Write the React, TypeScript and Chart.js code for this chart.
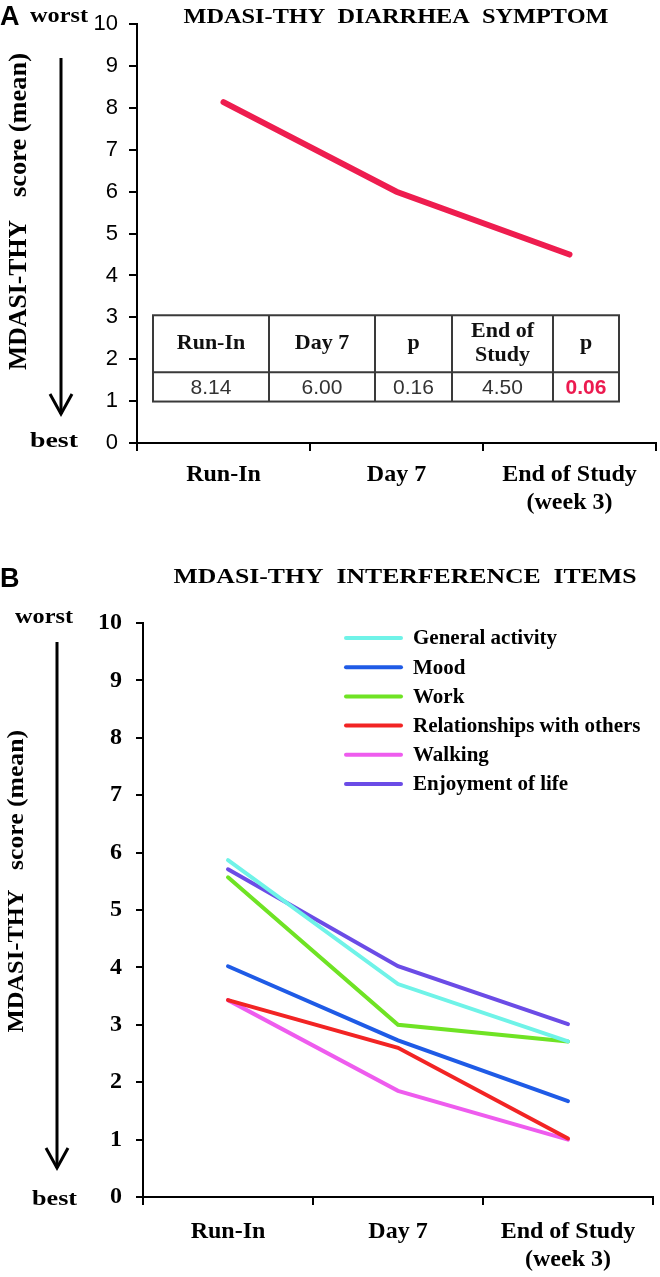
import React, { useEffect, useRef } from 'react';
import { Chart, registerables } from 'chart.js';

Chart.register(...registerables);

// ---------- DATA ----------
const timepointsA = ['Run-In', 'Day 7', ['End of Study', '(week 3)']];
const diarrheaMeans = [8.14, 6.0, 4.5];

const tableHeaders = [['Run-In'], ['Day 7'], ['p'], ['End of', 'Study'], ['p']];
const tableValues = ['8.14', '6.00', '0.16', '4.50', '0.06'];
const tableHighlight = [false, false, false, false, true];

const timepointsB = ['Run-In', 'Day 7', ['End of Study', '(week 3)']];
const seriesNames = [
  'General activity',
  'Mood',
  'Work',
  'Relationships with others',
  'Walking',
  'Enjoyment of life',
];
const generalActivity = [5.87, 3.71, 2.71];
const mood = [4.02, 2.73, 1.67];
const work = [5.57, 3.0, 2.71];
const relationships = [3.43, 2.6, 1.02];
const walking = [3.43, 1.85, 1.0];
const enjoyment = [5.71, 4.02, 3.01];
const seriesColors = ['#6ff3e8', '#1f5be6', '#6fe324', '#f22424', '#ee5cee', '#6b4ce6'];

const SERIF = "'Liberation Serif', 'Times New Roman', serif";
const SANS = "'Liberation Sans', Arial, sans-serif";

// ---------- helpers ----------
function drawFit(ctx: CanvasRenderingContext2D, text: string, x: number, y: number, font: string,
  width: number | null, align: CanvasTextAlign = 'center', color = '#000') {
  ctx.save();
  ctx.font = font;
  ctx.fillStyle = color;
  ctx.textBaseline = 'middle';
  ctx.textAlign = align;
  const m = ctx.measureText(text).width;
  const sx = width ? width / m : 1;
  ctx.translate(x, y);
  ctx.scale(sx, 1);
  ctx.fillText(text, 0, 0);
  ctx.restore();
}

function drawVertical(ctx: CanvasRenderingContext2D, text: string, cx: number, cy: number, font: string, length: number) {
  ctx.save();
  ctx.font = font;
  ctx.fillStyle = '#000';
  ctx.textBaseline = 'middle';
  ctx.textAlign = 'center';
  const m = ctx.measureText(text).width;
  ctx.translate(cx, cy);
  ctx.rotate(-Math.PI / 2);
  ctx.scale(length / m, 1);
  ctx.fillText(text, 0, 0);
  ctx.restore();
}

function drawArrow(ctx: CanvasRenderingContext2D, x: number, y1: number, y2: number, hw: number, hh: number) {
  ctx.save();
  ctx.strokeStyle = '#000';
  ctx.lineWidth = 3;
  ctx.beginPath();
  ctx.moveTo(x, y1);
  ctx.lineTo(x, y2);
  ctx.stroke();
  ctx.beginPath();
  ctx.moveTo(x - hw, y2 - hh);
  ctx.lineTo(x, y2);
  ctx.lineTo(x + hw, y2 - hh);
  ctx.stroke();
  ctx.restore();
}

const decorA = {
  id: 'decorA',
  afterDraw(chart: any) {
    const ctx = chart.ctx as CanvasRenderingContext2D;
    const ys = chart.scales.y;
    const left = chart.chartArea.left;
    drawFit(ctx, 'A', 0, 18, `bold 27px ${SANS}`, null, 'left');
    drawFit(ctx, 'worst', 30, 17, `bold 20px ${SERIF}`, 58, 'left');
    drawFit(ctx, 'best', 30, 442, `bold 20px ${SERIF}`, 48, 'left');
    drawFit(ctx, 'MDASI-THY  DIARRHEA  SYMPTOM', 396, 18, `bold 20px ${SERIF}`, 425, 'center');
    drawVertical(ctx, 'score (mean)', 20, 125, `bold 25px ${SERIF}`, 144);
    drawVertical(ctx, 'MDASI-THY', 20, 295, `bold 25px ${SERIF}`, 150);
    drawArrow(ctx, 61, 58, 414, 11, 20);

    // table
    const cols = [16, 132, 238, 315, 416, 482].map((o) => left + o);
    const top = ys.getPixelForValue(3.05);
    const mid = ys.getPixelForValue(1.69);
    const bot = ys.getPixelForValue(0.99);
    ctx.save();
    ctx.fillStyle = '#fff';
    ctx.fillRect(cols[0], top, cols[5] - cols[0], bot - top);
    ctx.strokeStyle = '#3a3a3a';
    ctx.lineWidth = 2;
    ctx.strokeRect(cols[0], top, cols[5] - cols[0], bot - top);
    ctx.beginPath();
    ctx.moveTo(cols[0], mid);
    ctx.lineTo(cols[5], mid);
    for (let i = 1; i < 5; i++) {
      ctx.moveTo(cols[i], top);
      ctx.lineTo(cols[i], bot);
    }
    ctx.stroke();
    ctx.restore();
    for (let i = 0; i < 5; i++) {
      const cx = (cols[i] + cols[i + 1]) / 2;
      const lines = tableHeaders[i];
      const lh = 24;
      const startY = (top + mid) / 2 - ((lines.length - 1) * lh) / 2;
      lines.forEach((t, j) => {
        ctx.save();
        ctx.font = `bold 22px ${SERIF}`;
        ctx.fillStyle = '#111';
        ctx.textAlign = 'center';
        ctx.textBaseline = 'middle';
        ctx.fillText(t, cx, startY + j * lh);
        ctx.restore();
      });
      ctx.save();
      ctx.font = tableHighlight[i] ? `bold 21px ${SANS}` : `21px ${SANS}`;
      ctx.fillStyle = tableHighlight[i] ? '#ec1a4f' : '#333';
      ctx.textAlign = 'center';
      ctx.textBaseline = 'middle';
      ctx.fillText(tableValues[i], cx, (mid + bot) / 2 + 1);
      ctx.restore();
    }
  },
};

const decorB = {
  id: 'decorB',
  afterDraw(chart: any) {
    const ctx = chart.ctx as CanvasRenderingContext2D;
    drawFit(ctx, 'B', 0, 40, `bold 27px ${SANS}`, null, 'left');
    drawFit(ctx, 'MDASI-THY  INTERFERENCE  ITEMS', 405, 38, `bold 20px ${SERIF}`, 463, 'center');
    drawFit(ctx, 'worst', 15, 78, `bold 20px ${SERIF}`, 58, 'left');
    drawFit(ctx, 'best', 32, 660, `bold 20px ${SERIF}`, 45, 'left');
    drawVertical(ctx, 'score (mean)', 17, 260, `bold 24px ${SERIF}`, 140);
    drawVertical(ctx, 'MDASI-THY', 17, 421, `bold 24px ${SERIF}`, 143);
    drawArrow(ctx, 57, 102, 628, 11, 20);

    // legend
    const ds = chart.data.datasets;
    ds.forEach((d: any, i: number) => {
      const y = 98 + i * 29.2;
      ctx.save();
      ctx.strokeStyle = d.borderColor;
      ctx.lineWidth = 4;
      ctx.lineCap = 'round';
      ctx.beginPath();
      ctx.moveTo(346, y);
      ctx.lineTo(401, y);
      ctx.stroke();
      ctx.restore();
      ctx.save();
      ctx.font = `bold 21px ${SERIF}`;
      ctx.fillStyle = '#000';
      ctx.textBaseline = 'middle';
      ctx.textAlign = 'left';
      ctx.fillText(d.label, 413, y + 1);
      ctx.restore();
    });
  },
};

function axisCommon(tickFont: any, tickPad: number, tickLen: number) {
  return {
    grid: { drawOnChartArea: false, drawTicks: true, tickLength: tickLen, color: '#000', lineWidth: 2 },
    border: { display: true, color: '#000', width: 2 },
    ticks: { color: '#000', font: tickFont, padding: tickPad },
  };
}

export default function App() {
  const refA = useRef<HTMLCanvasElement>(null);
  const refB = useRef<HTMLCanvasElement>(null);

  useEffect(() => {
    const a = new Chart(refA.current as HTMLCanvasElement, {
      type: 'line',
      data: {
        labels: timepointsA as any,
        datasets: [
          {
            label: 'Diarrhea',
            data: diarrheaMeans,
            borderColor: '#ee1d4f',
            borderWidth: 6,
            borderCapStyle: 'round',
            pointRadius: 0,
            tension: 0,
          },
        ],
      },
      options: {
        responsive: false,
        animation: false,
        layout: { padding: { top: 17, right: 4, left: 0, bottom: 0 } },
        plugins: { legend: { display: false }, tooltip: { enabled: false }, title: { display: false } },
        scales: {
          x: {
            offset: true,
            border: { display: true, color: '#000', width: 2 },
            grid: { offset: true, drawOnChartArea: false, tickLength: 8, color: '#000', lineWidth: 2 },
            ticks: { color: '#000', font: { family: SERIF, size: 24, weight: 'bold', lineHeight: 1.2 }, padding: 9, maxRotation: 0, autoSkip: false },
            afterFit: (s: any) => { s.height = 97; },
          } as any,
          y: {
            min: 0,
            max: 10,
            ...axisCommon({ family: SANS, size: 22 }, 11, 8),
            ticks: { stepSize: 1, color: '#000', font: { family: SANS, size: 22 }, padding: 11 },
            afterFit: (s: any) => { s.width = 137; },
          } as any,
        },
      },
      plugins: [decorA],
    });

    const seriesData = [generalActivity, mood, work, relationships, walking, enjoyment];
    const b = new Chart(refB.current as HTMLCanvasElement, {
      type: 'line',
      data: {
        labels: timepointsB as any,
        datasets: seriesNames.map((name, i) => ({
          label: name,
          data: seriesData[i],
          borderColor: seriesColors[i],
          borderWidth: 4,
          borderCapStyle: 'round' as const,
          pointRadius: 0,
          tension: 0,
        })),
      },
      options: {
        responsive: false,
        animation: false,
        layout: { padding: { top: 83, right: 7, left: 0, bottom: 0 } },
        plugins: { legend: { display: false }, tooltip: { enabled: false }, title: { display: false } },
        scales: {
          x: {
            offset: true,
            border: { display: true, color: '#000', width: 2 },
            grid: { offset: true, drawOnChartArea: false, tickLength: 8, color: '#000', lineWidth: 2 },
            ticks: { color: '#000', font: { family: SERIF, size: 24, weight: 'bold', lineHeight: 1.2 }, padding: 12, maxRotation: 0, autoSkip: false },
            afterFit: (s: any) => { s.height = 80; },
          } as any,
          y: {
            min: 0,
            max: 10,
            ...axisCommon({ family: SERIF, size: 24, weight: 'bold' }, 14, 7),
            ticks: { stepSize: 1, color: '#000', font: { family: SERIF, size: 24, weight: 'bold' }, padding: 14 },
            afterFit: (s: any) => { s.width = 143; },
          } as any,
        },
      },
      plugins: [decorB],
    });

    return () => {
      a.destroy();
      b.destroy();
    };
  }, []);

  return (
    <div style={{ position: 'absolute', left: 0, top: 0, width: 660, height: 1277, background: '#fff' }}>
      <canvas ref={refA} width={660} height={540} style={{ position: 'absolute', left: 0, top: 0, display: 'block' }} />
      <canvas ref={refB} width={660} height={737} style={{ position: 'absolute', left: 0, top: 540, display: 'block' }} />
    </div>
  );
}
